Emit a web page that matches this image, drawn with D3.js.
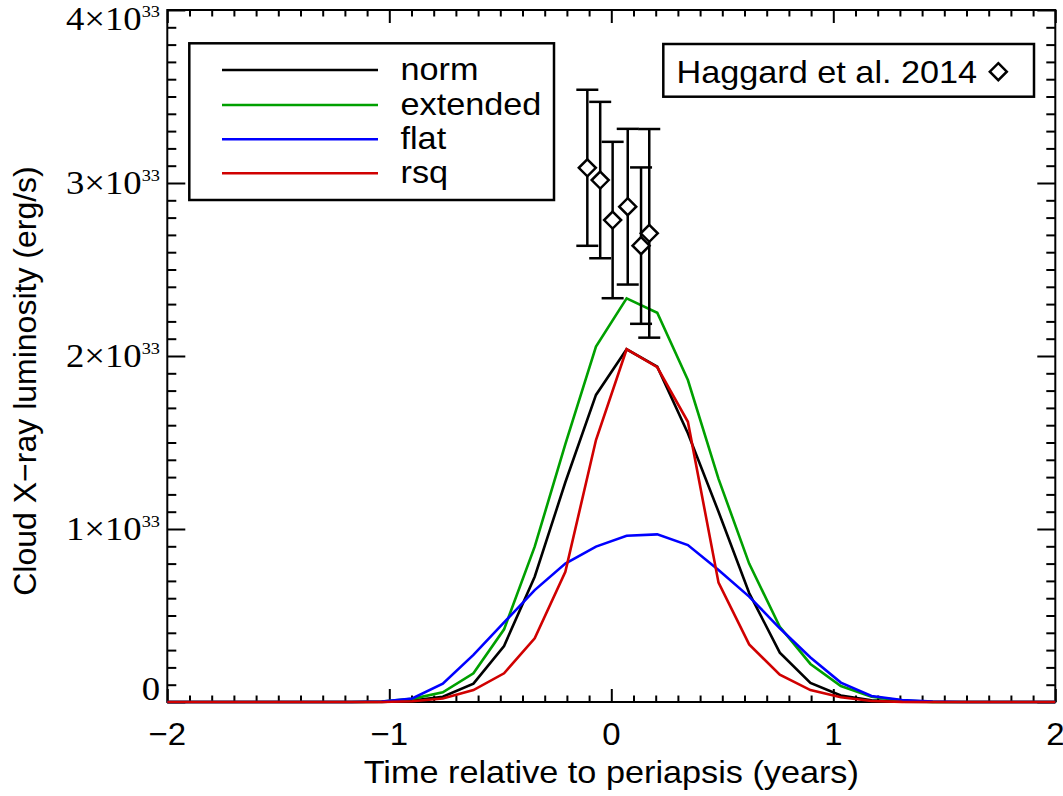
<!DOCTYPE html>
<html>
<head>
<meta charset="utf-8">
<script src="https://cdn.jsdelivr.net/npm/d3@7"></script>
<style>
  html, body { margin: 0; padding: 0; background: #fff; }
  svg { display: block; }
</style>
</head>
<body>
<svg id="chart" width="1063" height="796"></svg>
<script>
// ---- data (luminosity in units of 1e33 erg/s) ----
const times = [-2.000, -1.862, -1.724, -1.586, -1.448, -1.310, -1.172, -1.034, -0.897, -0.759,
               -0.621, -0.483, -0.345, -0.207, -0.069, 0.069, 0.207, 0.345, 0.483, 0.621,
               0.759, 0.897, 1.034, 1.172, 1.310, 1.448, 1.586, 1.724, 1.862, 2.000];
const norm     = [0, 0, 0, 0, 0, 0, 0, 0.001, 0.008, 0.030, 0.106, 0.324, 0.724, 1.270, 1.775,
                  2.039, 1.938, 1.553, 1.100, 0.630, 0.285, 0.110, 0.038, 0.010, 0.002, 0, 0, 0, 0, 0];
const extended = [0, 0, 0, 0, 0, 0, 0, 0.002, 0.018, 0.056, 0.166, 0.420, 0.898, 1.490, 2.054,
                  2.333, 2.250, 1.861, 1.290, 0.800, 0.435, 0.220, 0.092, 0.030, 0.008, 0.001, 0, 0, 0, 0];
const flat     = [0, 0, 0, 0, 0, 0, 0, 0.003, 0.020, 0.106, 0.272, 0.460, 0.647, 0.800, 0.898,
                  0.961, 0.969, 0.907, 0.763, 0.609, 0.426, 0.257, 0.112, 0.035, 0.012, 0.002, 0, 0, 0, 0];
const rsq      = [0, 0, 0, 0, 0, 0, 0, 0, 0.004, 0.020, 0.069, 0.166, 0.368, 0.753, 1.514,
                  2.039, 1.935, 1.620, 0.690, 0.333, 0.158, 0.069, 0.027, 0.006, 0.001, 0, 0, 0, 0, 0];
const seriesNames  = ["norm", "extended", "flat", "rsq"];
const seriesColors = ["#000000", "#00a000", "#0000ff", "#d00000"];

// Haggard et al. 2014 observations
const obsTime = [-0.108, -0.050, 0.006, 0.074, 0.134, 0.171];
const obsLum  = [3.088, 3.017, 2.786, 2.863, 2.638, 2.709];
const obsErr  = [0.451, 0.452, 0.452, 0.450, 0.452, 0.603];

const xMajorTicks = [-2, -1, 0, 1, 2];
const xTickLabels = ["\u22122", "\u22121", "0", "1", "2"];
const yMajorTicks = [0, 1, 2, 3, 4];
const yTickMantissa = ["0", "1\u00d710", "2\u00d710", "3\u00d710", "4\u00d710"];
const yTickExponent = ["", "33", "33", "33", "33"];

const xTitle = "Time relative to periapsis (years)";
const yTitle = "Cloud X\u2212ray luminosity (erg/s)";
const obsLabel = "Haggard et al. 2014";

// ---- layout ----
const svg = d3.select("#chart");
const L = 167.3, R = 1055.3, T = 10, B = 702;
const x = d3.scaleLinear().domain([-2, 2]).range([L, R]);
const y = d3.scaleLinear().domain([0, 4]).range([B, T]);
const SANS = "'Liberation Sans', Arial, Helvetica, sans-serif";
const SERIF = "'Liberation Serif', 'Times New Roman', serif";
const FS = 32;
const SX = 1.07;   // horizontal stretch of text seen in the reference

function addText(parent, px, py, str, opts = {}) {
  const t = parent.append("text")
    .attr("transform", `translate(${px},${py}) scale(${opts.sx || SX},1)`)
    .attr("font-family", opts.family || SANS).attr("font-size", opts.size || FS)
    .attr("text-anchor", opts.anchor || "start").attr("fill", "#000");
  if (str !== null) t.text(str);
  return t;
}

const xMinor = d3.range(-20, 21).map(i => i / 10).filter(v => Math.abs(v - Math.round(v)) > 1e-9);
const yMinor = d3.range(0, 41).map(i => i / 10).filter(v => Math.abs(v - Math.round(v)) > 1e-9);

function styleAxis(g) {
  g.select(".domain").remove();
  g.selectAll(".tick line").attr("stroke", "#000").attr("stroke-width", 2);
}
// bottom
svg.append("g").attr("transform", `translate(0,${B})`)
  .call(d3.axisBottom(x).tickValues(xMinor).tickSize(-6.5).tickFormat("")).call(styleAxis);
svg.append("g").attr("transform", `translate(0,${B})`)
  .call(d3.axisBottom(x).tickValues(xMajorTicks).tickSize(-13).tickFormat("")).call(styleAxis);
// top
svg.append("g").attr("transform", `translate(0,${T})`)
  .call(d3.axisTop(x).tickValues(xMinor).tickSize(-6.5).tickFormat("")).call(styleAxis);
svg.append("g").attr("transform", `translate(0,${T})`)
  .call(d3.axisTop(x).tickValues(xMajorTicks).tickSize(-13).tickFormat("")).call(styleAxis);
// left
svg.append("g").attr("transform", `translate(${L},0)`)
  .call(d3.axisLeft(y).tickValues(yMinor).tickSize(-9).tickFormat("")).call(styleAxis);
svg.append("g").attr("transform", `translate(${L},0)`)
  .call(d3.axisLeft(y).tickValues(yMajorTicks).tickSize(-18).tickFormat("")).call(styleAxis);
// right
svg.append("g").attr("transform", `translate(${R},0)`)
  .call(d3.axisRight(y).tickValues(yMinor).tickSize(-9).tickFormat("")).call(styleAxis);
svg.append("g").attr("transform", `translate(${R},0)`)
  .call(d3.axisRight(y).tickValues(yMajorTicks).tickSize(-18).tickFormat("")).call(styleAxis);

// frame
svg.append("rect").attr("x", L).attr("y", T).attr("width", R - L).attr("height", B - T)
  .attr("fill", "none").attr("stroke", "#000").attr("stroke-width", 2);

// x tick labels
const xl = svg.append("g");
xMajorTicks.forEach((v, i) => addText(xl, x(v), 745, xTickLabels[i], { anchor: "middle", sx: 1.03 }));

// y tick labels (baseline offsets follow the reference: end labels nudged inward)
const yBase = [700, y(1) + 11, y(2) + 11, y(3) + 11, 30];
const yl = svg.append("g");
yMajorTicks.forEach((v, i) => {
  const t = addText(yl, 160, yBase[i], null, { anchor: "end", family: SERIF, size: 34, sx: 1.08 });
  t.append("tspan").text(yTickMantissa[i]);
  if (yTickExponent[i]) t.append("tspan").attr("font-size", 17).attr("dy", -13).text(yTickExponent[i]);
});

// axis titles
addText(svg, (L + R) / 2, 783, xTitle, { anchor: "middle" });
svg.append("text").attr("transform", `translate(36,${(170 + 592) / 2}) rotate(-90)`)
  .attr("text-anchor", "middle").attr("font-family", SANS).attr("font-size", FS).text(yTitle);

// model curves
const allSeries = [norm, extended, flat, rsq];
const line = d3.line().x((d, i) => x(times[i])).y(d => y(d));
svg.append("g").selectAll("path").data(allSeries).join("path")
  .attr("d", d => line(d)).attr("fill", "none")
  .attr("stroke", (d, i) => seriesColors[i]).attr("stroke-width", 2.6)
  .attr("stroke-linejoin", "miter");

// observations with error bars
const obs = svg.append("g").attr("stroke", "#000").attr("stroke-width", 2.5).attr("fill", "none");
const cap = 11;
obsTime.forEach((t, i) => {
  const cx = x(t), lo = y(obsLum[i] - obsErr[i]), hi = y(obsLum[i] + obsErr[i]);
  obs.append("line").attr("x1", cx).attr("x2", cx).attr("y1", lo).attr("y2", hi);
  obs.append("line").attr("x1", cx - cap).attr("x2", cx + cap).attr("y1", lo).attr("y2", lo);
  obs.append("line").attr("x1", cx - cap).attr("x2", cx + cap).attr("y1", hi).attr("y2", hi);
});
const dh = 8.5;
const diamond = (cx, cy) => `M${cx},${cy - dh}L${cx + dh},${cy}L${cx},${cy + dh}L${cx - dh},${cy}Z`;
obs.selectAll("path").data(obsTime).join("path")
  .attr("d", (t, i) => diamond(x(t), y(obsLum[i]))).attr("fill", "#fff");

// legend 1
const lg = svg.append("g");
lg.append("rect").attr("x", 189.3).attr("y", 43.3).attr("width", 554 - 189.3).attr("height", 200 - 43.3)
  .attr("fill", "#fff").attr("stroke", "#000").attr("stroke-width", 2.5);
const rowY = [70, 105, 139.3, 173.3];
seriesNames.forEach((n, i) => {
  lg.append("line").attr("x1", 222).attr("x2", 378).attr("y1", rowY[i]).attr("y2", rowY[i])
    .attr("stroke", seriesColors[i]).attr("stroke-width", 2.5);
  addText(lg, 400.5, rowY[i] + 9.5, n);
});

// legend 2
const lg2 = svg.append("g");
lg2.append("rect").attr("x", 663.3).attr("y", 44).attr("width", 1034 - 663.3).attr("height", 96.7 - 44)
  .attr("fill", "#fff").attr("stroke", "#000").attr("stroke-width", 2.5);
addText(lg2, 676.5, 83, obsLabel);
lg2.append("path").attr("d", diamond(998.3, 71.7)).attr("fill", "none").attr("stroke", "#000").attr("stroke-width", 2.5);
</script>
</body>
</html>
